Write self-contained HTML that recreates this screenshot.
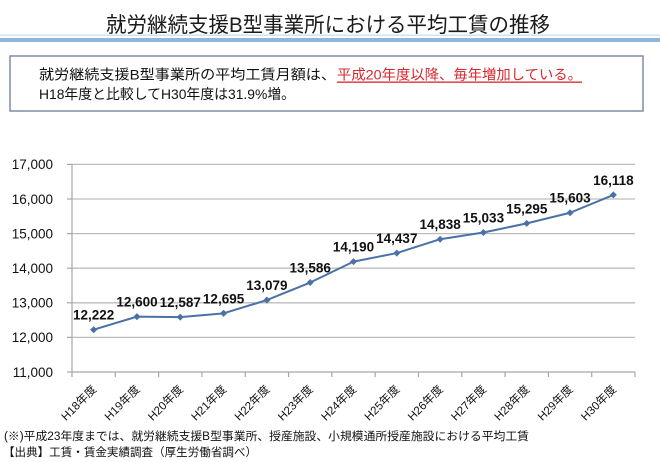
<!DOCTYPE html>
<html>
<head>
<meta charset="utf-8">
<style>
  html, body { margin:0; padding:0; background:#ffffff; }
  svg { display:block; }
  .jp { font-family: "Liberation Sans", "Noto Sans CJK JP", sans-serif; }
  .num { font-family: "Liberation Sans", sans-serif; }
</style>
</head>
<body>
<svg width="660" height="462" viewBox="0 0 660 462" xmlns="http://www.w3.org/2000/svg">
  <rect x="0" y="0" width="660" height="462" fill="#ffffff"/>

  <!-- Title -->
  <text class="jp" x="106" y="32" font-size="21" fill="#1a1a1a" textLength="444" lengthAdjust="spacingAndGlyphs">就労継続支援B型事業所における平均工賃の推移</text>

  <!-- Title underline bars -->
  <rect x="0" y="34.5" width="660" height="1.5" fill="#d3e2f1"/>
  <rect x="0" y="38" width="660" height="4" fill="#93b4db"/>

  <!-- Summary box -->
  <rect x="10" y="56" width="633" height="55" fill="#ffffff" stroke="#7f8ea6" stroke-width="1.5"/>
  <text class="jp" x="39" y="79.5" font-size="14" fill="#111" textLength="297" lengthAdjust="spacingAndGlyphs">就労継続支援B型事業所の平均工賃月額は、</text>
  <text class="jp" x="337" y="79.5" font-size="14" fill="#d8262c" textLength="245" lengthAdjust="spacingAndGlyphs">平成20年度以降、毎年増加している。</text>
  <rect x="337" y="81.5" width="245" height="1.3" fill="#d8262c"/>
  <text class="jp" x="39" y="99" font-size="14" fill="#111" textLength="256" lengthAdjust="spacingAndGlyphs">H18年度と比較してH30年度は31.9%増。</text>

  <!-- Gridlines -->
  <g stroke="#bdbdbd" stroke-width="1.3">
    <line x1="72" y1="164.4" x2="635" y2="164.4"/>
    <line x1="72" y1="199" x2="635" y2="199"/>
    <line x1="72" y1="233.6" x2="635" y2="233.6"/>
    <line x1="72" y1="268.2" x2="635" y2="268.2"/>
    <line x1="72" y1="302.8" x2="635" y2="302.8"/>
    <line x1="72" y1="337.4" x2="635" y2="337.4"/>
  </g>

  <!-- Axes -->
  <g stroke="#a6a6a6" stroke-width="1.2">
    <line x1="72" y1="164.4" x2="72" y2="372"/>
    <line x1="72" y1="372" x2="635" y2="372"/>
    <line x1="67" y1="164.4" x2="72" y2="164.4"/>
    <line x1="67" y1="199" x2="72" y2="199"/>
    <line x1="67" y1="233.6" x2="72" y2="233.6"/>
    <line x1="67" y1="268.2" x2="72" y2="268.2"/>
    <line x1="67" y1="302.8" x2="72" y2="302.8"/>
    <line x1="67" y1="337.4" x2="72" y2="337.4"/>
    <line x1="67" y1="372" x2="72" y2="372"/>
    <line x1="72" y1="372" x2="72" y2="377"/>
    <line x1="115.31" y1="372" x2="115.31" y2="377"/>
    <line x1="158.62" y1="372" x2="158.62" y2="377"/>
    <line x1="201.93" y1="372" x2="201.93" y2="377"/>
    <line x1="245.24" y1="372" x2="245.24" y2="377"/>
    <line x1="288.55" y1="372" x2="288.55" y2="377"/>
    <line x1="331.86" y1="372" x2="331.86" y2="377"/>
    <line x1="375.17" y1="372" x2="375.17" y2="377"/>
    <line x1="418.48" y1="372" x2="418.48" y2="377"/>
    <line x1="461.79" y1="372" x2="461.79" y2="377"/>
    <line x1="505.1" y1="372" x2="505.1" y2="377"/>
    <line x1="548.41" y1="372" x2="548.41" y2="377"/>
    <line x1="591.72" y1="372" x2="591.72" y2="377"/>
    <line x1="635" y1="372" x2="635" y2="377"/>
  </g>

  <!-- Y labels -->
  <g class="num" font-size="13.5" fill="#111" text-anchor="end">
    <text x="53" y="169.2">17,000</text>
    <text x="53" y="203.8">16,000</text>
    <text x="53" y="238.4">15,000</text>
    <text x="53" y="273">14,000</text>
    <text x="53" y="307.6">13,000</text>
    <text x="53" y="342.2">12,000</text>
    <text x="53" y="376.8">11,000</text>
  </g>

  <!-- Series line -->
  <polyline fill="none" stroke="#4a72a6" stroke-width="2" stroke-linejoin="round"
    points="93.66,329.72 136.97,316.64 180.28,317.09 223.58,313.35 266.89,300.07 310.2,282.52 353.51,261.63 396.82,253.08 440.13,239.21 483.43,232.46 526.74,223.39 570.05,212.74 613.36,194.92"/>

  <!-- Markers -->
  <g fill="#4a72a6">
    <path d="M93.66,326.2 L97.2,329.72 L93.66,333.2 L90.1,329.72 Z"/>
    <path d="M136.97,313.1 L140.5,316.64 L136.97,320.2 L133.4,316.64 Z"/>
    <path d="M180.28,313.6 L183.8,317.09 L180.28,320.6 L176.7,317.09 Z"/>
    <path d="M223.58,309.8 L227.1,313.35 L223.58,316.9 L220.0,313.35 Z"/>
    <path d="M266.89,296.5 L270.4,300.07 L266.89,303.6 L263.3,300.07 Z"/>
    <path d="M310.2,279.0 L313.7,282.52 L310.2,286.0 L306.7,282.52 Z"/>
    <path d="M353.51,258.1 L357.0,261.63 L353.51,265.1 L350.0,261.63 Z"/>
    <path d="M396.82,249.6 L400.3,253.08 L396.82,256.6 L393.3,253.08 Z"/>
    <path d="M440.13,235.7 L443.6,239.21 L440.13,242.7 L436.6,239.21 Z"/>
    <path d="M483.43,229.0 L486.9,232.46 L483.43,236.0 L479.9,232.46 Z"/>
    <path d="M526.74,219.9 L530.2,223.39 L526.74,226.9 L523.2,223.39 Z"/>
    <path d="M570.05,209.2 L573.6,212.74 L570.05,216.3 L566.5,212.74 Z"/>
    <path d="M613.36,191.4 L616.9,194.92 L613.36,198.4 L609.8,194.92 Z"/>
  </g>

  <!-- Data labels -->
  <g class="num" font-size="13.5" font-weight="bold" fill="#111" text-anchor="middle">
    <text x="93.66" y="319.7">12,222</text>
    <text x="136.97" y="306.6">12,600</text>
    <text x="180.28" y="307.1">12,587</text>
    <text x="223.58" y="303.4">12,695</text>
    <text x="266.89" y="290.1">13,079</text>
    <text x="310.2" y="272.5">13,586</text>
    <text x="353.51" y="251.6">14,190</text>
    <text x="396.82" y="243.1">14,437</text>
    <text x="440.13" y="229.2">14,838</text>
    <text x="483.43" y="222.5">15,033</text>
    <text x="526.74" y="213.4">15,295</text>
    <text x="570.05" y="202.7">15,603</text>
    <text x="613.36" y="184.9">16,118</text>
  </g>

  <!-- X labels (rotated) -->
  <g class="jp" font-size="11.5" fill="#111" text-anchor="end">
    <text transform="translate(97.16,390) rotate(-45)">H18年度</text>
    <text transform="translate(140.47,390) rotate(-45)">H19年度</text>
    <text transform="translate(183.78,390) rotate(-45)">H20年度</text>
    <text transform="translate(227.08,390) rotate(-45)">H21年度</text>
    <text transform="translate(270.39,390) rotate(-45)">H22年度</text>
    <text transform="translate(313.7,390) rotate(-45)">H23年度</text>
    <text transform="translate(357.01,390) rotate(-45)">H24年度</text>
    <text transform="translate(400.32,390) rotate(-45)">H25年度</text>
    <text transform="translate(443.63,390) rotate(-45)">H26年度</text>
    <text transform="translate(486.93,390) rotate(-45)">H27年度</text>
    <text transform="translate(530.24,390) rotate(-45)">H28年度</text>
    <text transform="translate(573.55,390) rotate(-45)">H29年度</text>
    <text transform="translate(616.86,390) rotate(-45)">H30年度</text>
  </g>

  <!-- Footnotes -->
  <text class="jp" x="4" y="440" font-size="11.5" fill="#111" textLength="525" lengthAdjust="spacingAndGlyphs">(※)平成23年度までは、就労継続支援B型事業所、授産施設、小規模通所授産施設における平均工賃</text>
  <text class="jp" x="3" y="456" font-size="11.5" fill="#111" textLength="254" lengthAdjust="spacingAndGlyphs">【出典】工賃・賃金実績調査（厚生労働省調べ）</text>
</svg>
</body>
</html>
